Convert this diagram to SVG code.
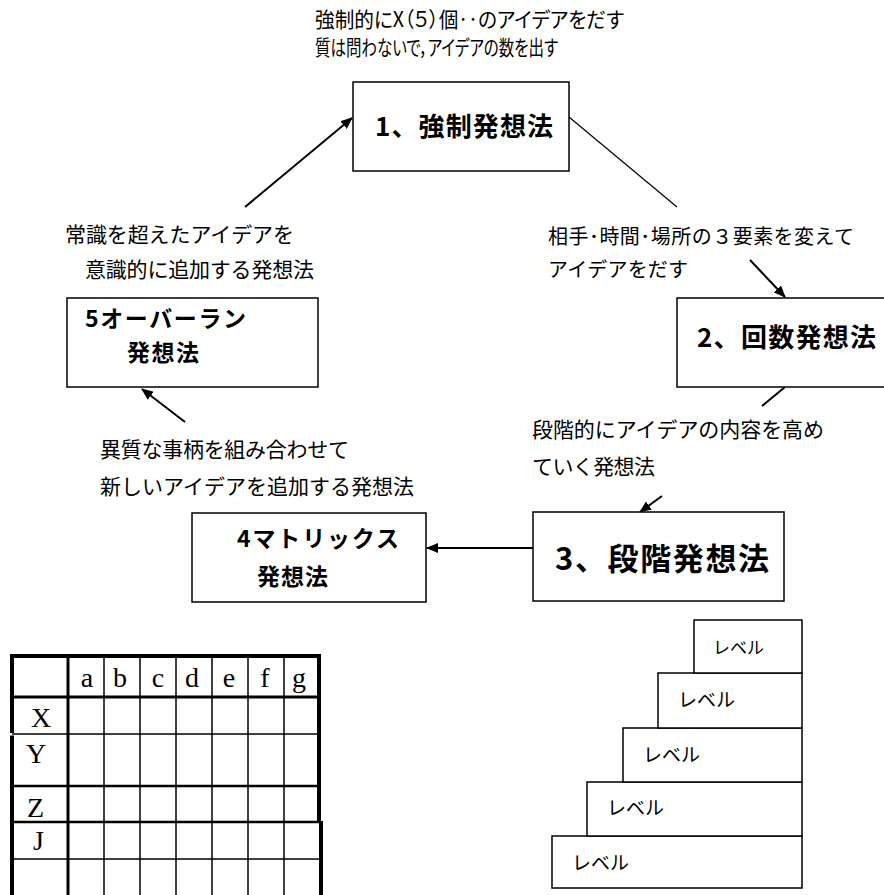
<svg xmlns="http://www.w3.org/2000/svg" width="884" height="895" viewBox="0 0 884 895">
<style>
  .lbl { font-family: "Noto Sans CJK JP", "Noto Sans", sans-serif; fill: #000; }
  .prop { font-family: "Noto Sans CJK JP", "Noto Sans", sans-serif; fill: #000; font-feature-settings: "palt" 1; }
  .ttl { font-family: "Noto Sans CJK JP", "Noto Sans", sans-serif; font-weight: bold; fill: #000; }
  .box { fill: #fff; stroke: #000; stroke-width: 1.5; }
  .ser { font-family: "Liberation Serif", "DejaVu Serif", serif; font-size: 28px; fill: #000; }
  .arr { stroke: #000; stroke-width: 2; fill: none; }
  .thin { stroke: #000; stroke-width: 1.2; fill: none; }
  .tb { stroke: #000; fill: none; }
</style>
<defs>
  <marker id="ah" viewBox="0 0 12 10" refX="11" refY="5" markerWidth="12" markerHeight="10" markerUnits="userSpaceOnUse" orient="auto">
    <path d="M0,0 L12,5 L0,10 Z" fill="#000"/>
  </marker>
</defs>

<g id="connectors">
  <line class="arr" x1="245" y1="207" x2="352" y2="118" marker-end="url(#ah)"/>
  <line class="thin" x1="569" y1="117" x2="677" y2="207"/>
  <line class="arr" x1="750" y1="260" x2="785" y2="297" marker-end="url(#ah)"/>
  <line class="arr" x1="785" y1="387" x2="762" y2="406"/>
  <line class="arr" x1="662" y1="496" x2="640" y2="512" marker-end="url(#ah)"/>
  <line class="arr" x1="533" y1="548" x2="427" y2="548" marker-end="url(#ah)"/>
  <line class="arr" x1="185" y1="422" x2="142" y2="389" marker-end="url(#ah)"/>
</g>

<g id="note1">
  <text class="prop" x="315" y="27" font-size="21" textLength="309" lengthAdjust="spacingAndGlyphs">強制的にX（５）個‥のアイデアをだす</text>
  <text class="prop" x="315" y="55" font-size="21" textLength="243" lengthAdjust="spacingAndGlyphs">質は問わないで，アイデアの数を出す</text>
</g>
<g id="node1">
  <rect class="box" x="353" y="82" width="216" height="89"/>
  <text class="ttl" x="375" y="136" font-size="26" textLength="178">1、強制発想法</text>
</g>

<g id="note2">
  <text class="lbl" x="548" y="244" font-size="20" textLength="306">相手･時間･場所の３要素を変えて</text>
  <text class="lbl" x="548" y="277" font-size="20" textLength="140">アイデアをだす</text>
</g>
<g id="node2">
  <rect class="box" x="677" y="298" width="230" height="89"/>
  <text class="ttl" x="697" y="347" font-size="26" textLength="179">2、回数発想法</text>
</g>

<g id="note3">
  <text class="lbl" x="532" y="437" font-size="21" textLength="292">段階的にアイデアの内容を高め</text>
  <text class="lbl" x="532" y="474" font-size="21" textLength="123">ていく発想法</text>
</g>
<g id="node3">
  <rect class="box" x="533" y="512" width="251" height="89"/>
  <text class="ttl" x="555" y="570" font-size="31" textLength="214">3、段階発想法</text>
</g>

<g id="note4">
  <text class="lbl" x="100" y="457" font-size="21" textLength="249">異質な事柄を組み合わせて</text>
  <text class="lbl" x="100" y="494" font-size="21" textLength="314">新しいアイデアを追加する発想法</text>
</g>
<g id="node4">
  <rect class="box" x="192" y="513" width="234" height="89"/>
  <text class="ttl" x="237" y="547" font-size="23" textLength="162">4マトリックス</text>
  <text class="ttl" x="257" y="585" font-size="23" textLength="71">発想法</text>
</g>

<g id="note5">
  <text class="lbl" x="65" y="242" font-size="21" textLength="229">常識を超えたアイデアを</text>
  <text class="lbl" x="85" y="277" font-size="21" textLength="229">意識的に追加する発想法</text>
</g>
<g id="node5">
  <rect class="box" x="67" y="298" width="251" height="89"/>
  <text class="ttl" x="85" y="327" font-size="23" textLength="161">5オーバーラン</text>
  <text class="ttl" x="127" y="361" font-size="23" textLength="72">発想法</text>
</g>

<g id="matrix">
  <g class="tb">
    <line x1="104" y1="656" x2="104" y2="895" stroke-width="1.5"/>
    <line x1="140" y1="656" x2="140" y2="895" stroke-width="1.5"/>
    <line x1="176" y1="656" x2="176" y2="895" stroke-width="1.5"/>
    <line x1="212" y1="656" x2="212" y2="895" stroke-width="1.5"/>
    <line x1="248" y1="656" x2="248" y2="895" stroke-width="1.5"/>
    <line x1="284" y1="656" x2="284" y2="895" stroke-width="1.5"/>
    <line x1="12" y1="734" x2="319" y2="734" stroke-width="1.5"/>
    <line x1="12" y1="786" x2="319" y2="786" stroke-width="2.5"/>
    <line x1="12" y1="822" x2="321" y2="822" stroke-width="2.5"/>
    <line x1="12" y1="859" x2="321" y2="859" stroke-width="1.5"/>
    <line x1="10" y1="656" x2="321" y2="656" stroke-width="4"/>
    <line x1="12" y1="654" x2="12" y2="733" stroke-width="4"/>
    <line x1="12" y1="735.5" x2="12" y2="895" stroke-width="4"/>
    <line x1="68" y1="656" x2="68" y2="895" stroke-width="3"/>
    <line x1="12" y1="697" x2="319" y2="697" stroke-width="3"/>
    <line x1="319" y1="654" x2="319" y2="822" stroke-width="4"/>
    <line x1="321" y1="821" x2="321" y2="895" stroke-width="4"/>
  </g>
  <g class="ser" text-anchor="middle">
    <text x="87" y="687">a</text>
    <text x="120" y="687">b</text>
    <text x="158" y="687">c</text>
    <text x="192" y="687">d</text>
    <text x="229" y="687">e</text>
    <text x="265" y="687">f</text>
    <text x="299" y="687">g</text>
  </g>
  <g class="ser">
    <text x="31" y="727">X</text>
    <text x="26" y="763">Y</text>
    <text x="27" y="817">Z</text>
    <text x="33" y="850">J</text>
  </g>
</g>

<g id="stairs">
  <rect class="box" x="552" y="836" width="250" height="52"/>
  <rect class="box" x="587" y="782" width="215" height="54"/>
  <rect class="box" x="623" y="728" width="179" height="54"/>
  <rect class="box" x="658" y="673" width="144" height="55"/>
  <rect class="box" x="694" y="620" width="108" height="53"/>
  <text class="lbl" x="713" y="654" font-size="17">レベル</text>
  <text class="lbl" x="678" y="707" font-size="19">レベル</text>
  <text class="lbl" x="643" y="762" font-size="19">レベル</text>
  <text class="lbl" x="607" y="815" font-size="19">レベル</text>
  <text class="lbl" x="572" y="870" font-size="19">レベル</text>
</g>
</svg>
